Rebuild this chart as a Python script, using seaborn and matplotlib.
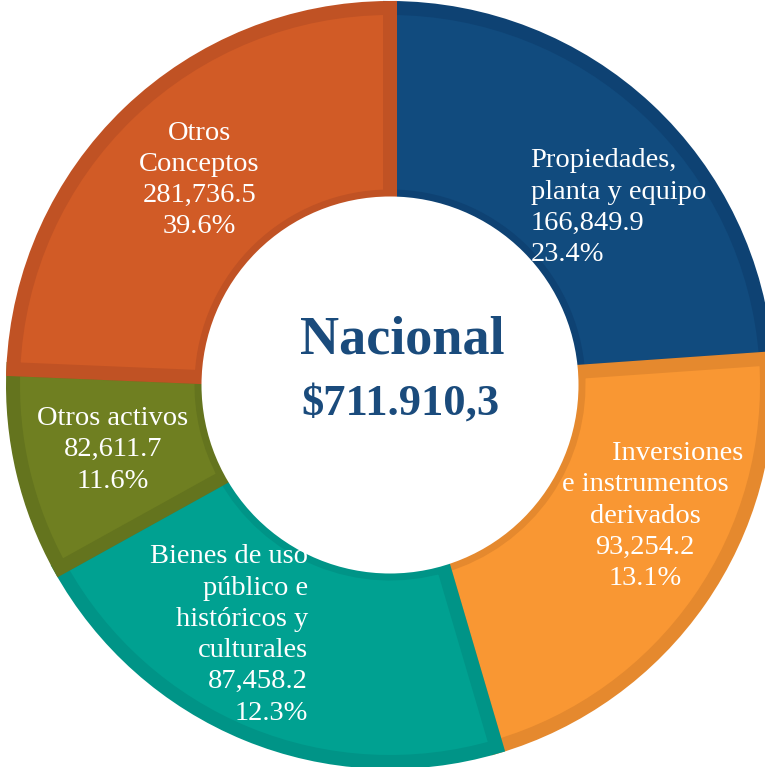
import numpy as np
import pandas as pd
import matplotlib
matplotlib.use('Agg')
import matplotlib.pyplot as plt
from matplotlib.patches import Circle
import seaborn as sns

sns.set_style('white')
plt.rcParams['font.family'] = ['Liberation Serif', 'DejaVu Serif']

# data
categories = ['Propiedades,\nplanta y equipo', 'Inversiones\ne instrumentos\nderivados',
              'Bienes de uso\npúblico e\nhistóricos y\nculturales', 'Otros activos',
              'Otros\nConceptos']
values = [166849.9, 93254.2, 87458.2, 82611.7, 281736.5]
value_labels = ['166,849.9', '93,254.2', '87,458.2', '82,611.7', '281,736.5']
pct_labels = ['23.4%', '13.1%', '12.3%', '11.6%', '39.6%']
# the ring in the picture is not drawn in proportion to the values above,
# so the slice sizes (degrees) are read straight off the picture
slice_deg = [86.0, 77.6, 77.4, 31.4, 87.6]
total_title = 'Nacional'
total_value = '$711.910,3'

# styling
colors = ['#114B7E', '#F99733', '#00A191', '#6F7F21', '#D15B26']
edges = ['#0E4273', '#E5892E', '#009487', '#64741E', '#C05224']
label_pos = [(0.373, 0.470, 'left'), (0.677, -0.348, 'center'), (-0.217, -0.663, 'right'),
             (-0.735, -0.172, 'center'), (-0.506, 0.544, 'center')]
first_pad = ['', '         ', '', '', '']

df = pd.DataFrame({'cat': categories, 'val': values, 'num': value_labels,
                   'pct': pct_labels, 'deg': slice_deg})

fig = plt.figure(figsize=(7.65, 7.67), dpi=100)
ax = fig.add_axes([0, 0, 1, 1])

R = 377.0
wedges, _ = ax.pie(df['deg'], radius=1, startangle=90, counterclock=False, colors=colors,
                   wedgeprops=dict(width=0.5, linewidth=14 * 72 / 100))
for w, ec in zip(wedges, edges):
    w.set_edgecolor(ec)
    w.set_clip_path(w)  # keep the border inside each slice

for (x, y, ha), row, pad in zip(label_pos, df.itertuples(), first_pad):
    txt = pad + row.cat + '\n' + row.num + '\n' + row.pct
    ax.text(x, y, txt, ha=ha, va='center', color='white', fontsize=20.5,
            linespacing=1.33, zorder=3, multialignment=ha)

# hole on top so text running into it gets hidden
ax.add_patch(Circle((0, 0), 0.5, facecolor='white', edgecolor='none', zorder=4))

ax.text(0.032, 0.119, total_title, ha='center', va='center', fontsize=39,
        fontweight='bold', color='#1A4B7C', zorder=5)
ax.text(0.027, -0.048, total_value, ha='center', va='center', fontsize=32,
        fontweight='bold', color='#1A4B7C', zorder=5)

ax.set_xlim(-390 / R, (765 - 390) / R)
ax.set_ylim(-(767 - 385) / R, 385 / R)
ax.set_aspect('auto')
ax.axis('off')

fig.savefig('out.png', dpi=100, facecolor='white')
